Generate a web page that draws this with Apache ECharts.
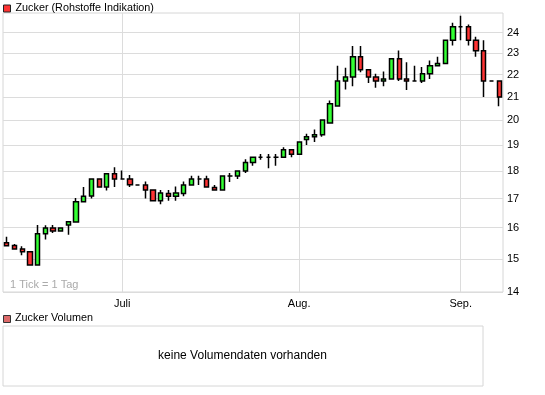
<!DOCTYPE html>
<html><head><meta charset="utf-8">
<script src="https://cdn.jsdelivr.net/npm/echarts@6/dist/echarts.min.js"></script>
<style>html,body{margin:0;padding:0;background:#fff}#c{width:545px;height:395px}</style>
</head><body><div id="c"></div>
<script>
const dates = [
 '2009-06-10','2009-06-11','2009-06-12','2009-06-15','2009-06-16','2009-06-17','2009-06-18','2009-06-19',
 '2009-06-22','2009-06-23','2009-06-24','2009-06-25','2009-06-26','2009-06-29','2009-06-30',
 '2009-07-01','2009-07-02','2009-07-03','2009-07-06','2009-07-07','2009-07-08','2009-07-09','2009-07-10',
 '2009-07-13','2009-07-14','2009-07-15','2009-07-16','2009-07-17','2009-07-20','2009-07-21','2009-07-22',
 '2009-07-23','2009-07-24','2009-07-27','2009-07-28','2009-07-29','2009-07-30','2009-07-31',
 '2009-08-03','2009-08-04','2009-08-05','2009-08-06','2009-08-07','2009-08-10','2009-08-11','2009-08-12',
 '2009-08-13','2009-08-14','2009-08-17','2009-08-18','2009-08-19','2009-08-20','2009-08-21','2009-08-24',
 '2009-08-25','2009-08-26','2009-08-27','2009-08-28','2009-08-31',
 '2009-09-01','2009-09-02','2009-09-03','2009-09-04','2009-09-07','2009-09-08'
];
const opens = [
 15.51,15.42,15.31,15.22,14.81,15.80,15.99,15.89,16.09,16.19,16.89,17.09,17.71,17.41,17.90,
 17.71,17.71,17.49,17.49,17.31,16.92,17.18,17.08,17.18,17.49,17.71,17.71,17.40,17.31,17.82,17.82,
 18.00,18.32,18.52,18.52,18.52,18.52,18.82,
 18.64,19.22,19.33,19.41,19.89,20.61,21.71,21.89,22.83,22.22,21.89,21.71,21.80,22.73,21.80,21.71,
 21.71,22.03,22.40,22.51,23.62,
 24.30,24.30,23.62,23.11,21.71,21.71
];
const closes = [
 15.41,15.31,15.22,14.81,15.80,15.99,15.89,15.99,16.20,16.89,17.08,17.71,17.41,17.90,17.71,
 17.71,17.50,17.49,17.31,16.92,17.20,17.08,17.20,17.49,17.71,17.71,17.41,17.31,17.82,17.82,18.00,
 18.32,18.52,18.52,18.52,18.52,18.82,18.64,
 19.12,19.33,19.41,20.02,20.70,21.71,21.89,22.83,22.22,21.89,21.71,21.80,22.73,21.80,21.71,21.71,
 22.03,22.40,22.51,23.62,24.30,
 24.30,23.62,23.11,21.71,21.71,21.00
];
const lows = [
 15.40,15.30,15.11,14.81,14.81,15.61,15.83,15.88,15.77,16.19,16.89,17.00,17.41,17.29,17.41,
 17.71,17.41,17.49,17.00,16.92,16.80,16.92,16.92,17.08,17.49,17.49,17.41,17.31,17.31,17.60,17.71,
 17.93,18.20,18.43,18.11,18.20,18.52,18.52,
 18.64,19.00,19.12,19.33,19.89,20.61,21.32,21.47,22.10,21.62,21.40,21.47,21.80,21.71,21.30,21.71,
 21.62,21.80,22.40,22.51,23.37,
 23.62,23.37,22.83,21.00,21.71,20.60
];
const highs = [
 15.70,15.47,15.40,15.22,16.09,16.08,16.09,15.99,16.22,17.02,17.41,17.71,17.71,17.90,18.14,
 18.02,17.85,17.49,17.61,17.31,17.31,17.31,17.43,17.61,17.83,17.83,17.83,17.49,17.82,17.93,18.00,
 18.45,18.52,18.65,18.65,18.65,18.91,18.82,
 19.15,19.45,19.62,20.02,20.84,22.40,22.31,23.34,23.34,22.22,22.04,22.14,22.73,23.13,22.57,22.40,
 22.35,22.65,22.83,23.62,24.50,
 24.86,24.41,23.80,23.62,21.71,21.71
];
const yTicks = [14,15,16,17,18,19,20,21,22,23,24];
const monthStarts = ['2009-07-01','2009-08-03','2009-09-01'];
const monthNames = ['Juli','Aug.','Sep.'];

const ohlc = dates.map((d,i)=>[opens[i], closes[i], lows[i], highs[i]]);
const FONT = 'Liberation Sans';
const chart = echarts.init(document.getElementById('c'), null, {renderer:'canvas'});
chart.setOption({
  animation:false,
  backgroundColor:'#fff',
  textStyle:{fontFamily:FONT},
  legend:{
    data:[{name:'Zucker (Rohstoffe Indikation)', icon:'rect',
      itemStyle:{color:'#ff3333', borderColor:'#222', borderWidth:1}}],
    left:3, top:3, padding:0, itemWidth:7, itemHeight:7, selectedMode:false,
    textStyle:{fontSize:10.8, color:'#000', fontFamily:FONT}
  },
  grid:[
    {left:3, right:42, top:13, height:279, show:true, borderColor:'#d6d6d6', borderWidth:1, backgroundColor:'#fff'},
    {left:3, top:326, width:480, height:60, show:true, borderColor:'#d6d6d6', borderWidth:1, backgroundColor:'#fff'}
  ],
  xAxis:[
    {type:'category', data:dates, gridIndex:0, boundaryGap:true,
      axisLine:{show:false}, axisTick:{show:false}, splitLine:{show:false},
      axisLabel:{interval:(i,v)=>monthStarts.indexOf(v)>=0,
        formatter:v=>{const k=monthStarts.indexOf(v); return k>=0?monthNames[k]:'';},
        color:'#000', fontSize:11, margin:6, fontFamily:FONT}},
    {type:'category', gridIndex:1, data:['x'], show:false}
  ],
  yAxis:[
    {type:'log', logBase:10, min:14, max:25, position:'right', gridIndex:0,
      axisLine:{show:false}, axisTick:{show:false, customValues:yTicks},
      axisLabel:{customValues:yTicks, color:'#000', fontSize:11, margin:4, fontFamily:FONT},
      splitLine:{show:true, lineStyle:{color:'#dcdcdc', width:1}}},
    {type:'value', gridIndex:1, show:false}
  ],
  graphic:[
    {type:'text', left:10, top:279.5, style:{text:'1 Tick = 1 Tag', fill:'#aaaaaa', font:'11px "Liberation Sans"'}},
    {type:'rect', shape:{x:3.5, y:315.5, width:7, height:7}, style:{fill:'#dd6a6a', stroke:'#333', lineWidth:1}},
    {type:'text', left:15, top:313, style:{text:'Zucker Volumen', fill:'#000', font:'10.8px "Liberation Sans"'}},
    {type:'text', x:242.5, y:356, style:{text:'keine Volumendaten vorhanden', fill:'#000', font:'12px "Liberation Sans"', align:'center', verticalAlign:'middle'}}
  ],
  series:[
    {type:'line', xAxisIndex:0, yAxisIndex:0, data:dates.map(()=>'-'), z:1, silent:true,
      showSymbol:false, lineStyle:{opacity:0},
      markLine:{silent:true, symbol:'none', animation:false, z:1, label:{show:false},
        lineStyle:{color:'#dcdcdc', width:1, type:'solid'},
        data:monthStarts.map(d=>({xAxis:d}))}},
    {type:'candlestick', name:'Zucker (Rohstoffe Indikation)', xAxisIndex:0, yAxisIndex:0, z:10,
      data:ohlc, barWidth:4.8,
      itemStyle:{color:'#33ff33', color0:'#ff3333', borderColor:'#000', borderColor0:'#000', borderColorDoji:'#000', borderWidth:1.5}}
  ]
});
</script></body></html>
